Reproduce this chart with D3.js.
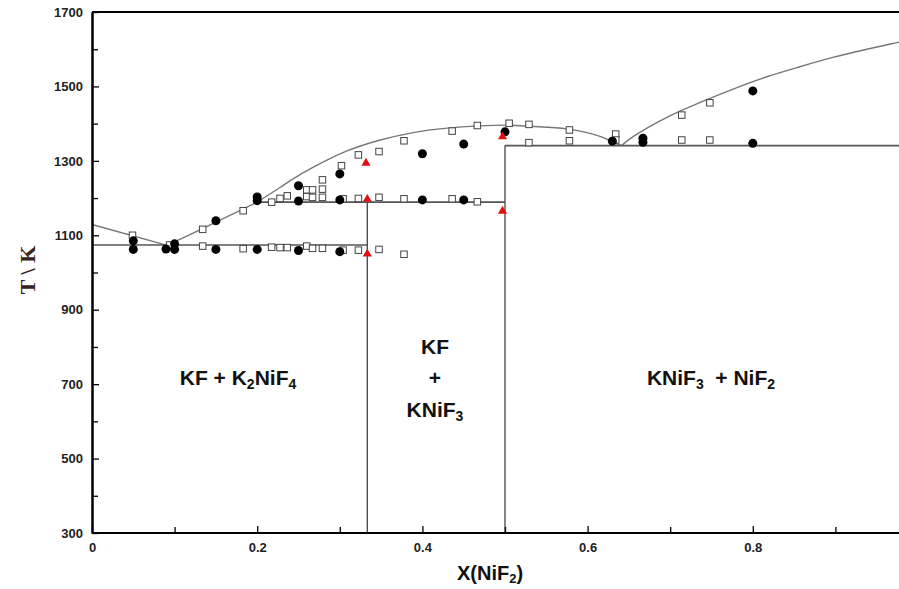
<!DOCTYPE html>
<html>
<head>
<meta charset="utf-8">
<script src="https://cdn.jsdelivr.net/npm/d3@7"></script>
<style>
  html, body { margin: 0; padding: 0; background: #fff; }
  svg { display: block; }
  text { white-space: pre; }
</style>
</head>
<body>
<svg id="chart" width="899" height="589"></svg>
<script>
// KF–NiF2 phase diagram: liquidus curves, invariant lines and experimental points

// Liquidus of KF (KF-rich side, down to the eutectic)
const liquidusKF = [[0, 1129], [0.091, 1073]];
// Liquidus of K2NiF4 (eutectic up to the peritectic point)
const liquidusK2NiF4 = [[0.091, 1073], [0.13, 1114], [0.2, 1189]];
// Liquidus of KNiF3 (peritectic, through congruent maximum, down to second eutectic)
const liquidusKNiF3 = [
  [0.2, 1189], [0.228, 1229], [0.24, 1247], [0.268, 1283], [0.308, 1326],
  [0.349, 1356], [0.389, 1376], [0.43, 1388], [0.47, 1394], [0.5, 1396],
  [0.53, 1393], [0.575, 1386], [0.615, 1366], [0.631, 1350], [0.641, 1341]
];
// Liquidus of NiF2
const liquidusNiF2 = [
  [0.641, 1341], [0.655, 1365], [0.696, 1417], [0.7385, 1459], [0.7785, 1495],
  [0.817, 1526], [0.857, 1553], [0.897, 1578], [0.938, 1600], [0.977, 1619], [1.0, 1630]
];

// Invariant horizontals [x0, x1, T] and compound verticals [x, Ttop]
const horizontals = [[0, 0.3333, 1074], [0.2, 0.5, 1189], [0.5, 1.0, 1341]];
const verticals = [[0.3333, 1189], [0.5, 1341]];

// Experimental points (open squares, filled circles, red triangles)
const squares = [
  [0.049, 1100], [0.094, 1074], [0.134, 1116], [0.134, 1071],
  [0.183, 1166], [0.183, 1064], [0.2175, 1189], [0.2175, 1068],
  [0.2276, 1199], [0.2276, 1067], [0.2364, 1206], [0.2364, 1067],
  [0.26, 1222], [0.26, 1204], [0.26, 1071], [0.267, 1222], [0.267, 1202], [0.267, 1065],
  [0.279, 1249], [0.279, 1224], [0.279, 1202], [0.279, 1065],
  [0.302, 1287], [0.304, 1198], [0.304, 1060],
  [0.3225, 1316], [0.3225, 1199], [0.3225, 1060],
  [0.3475, 1325], [0.3475, 1202], [0.3475, 1062],
  [0.3777, 1354], [0.3777, 1198], [0.3777, 1049],
  [0.436, 1380], [0.436, 1198], [0.4665, 1395], [0.4665, 1190],
  [0.505, 1401], [0.529, 1398], [0.529, 1349], [0.578, 1383], [0.578, 1354],
  [0.634, 1372], [0.634, 1356], [0.714, 1423], [0.714, 1356], [0.748, 1456], [0.748, 1356]
];
const circles = [
  [0.05, 1085], [0.05, 1062], [0.0896, 1063], [0.1, 1077], [0.1, 1062],
  [0.15, 1139], [0.15, 1062], [0.2, 1203], [0.2, 1193], [0.2, 1062],
  [0.25, 1233], [0.25, 1192], [0.25, 1059], [0.3, 1265], [0.3, 1195], [0.3, 1056],
  [0.4, 1319], [0.4, 1195], [0.45, 1345], [0.45, 1195], [0.5, 1378],
  [0.63, 1353], [0.667, 1361], [0.667, 1350], [0.8, 1488], [0.8, 1347]
];
const triangles = [[0.3317, 1294], [0.3333, 1197], [0.3333, 1050], [0.497, 1365], [0.497, 1165]];

// Axis ticks
const yMajorTicks = [300, 500, 700, 900, 1100, 1300, 1500, 1700];
const yMinorTicks = [400, 600, 800, 1000, 1200, 1400, 1600];
const xMajorTicks = [0, 0.2, 0.4, 0.6, 0.8];
const xMinorTicks = [0.1, 0.3, 0.5, 0.7, 0.9];
const xTickLabels = ["0", "0.2", "0.4", "0.6", "0.8"];

const svg = d3.select("#chart");
const W = 899;
const padLeft = 92, padTop = 12, axisBottomY = 533;

const x = d3.scaleLinear().domain([0, 1]).range([padLeft, 918]);
const y = d3.scaleLinear().domain([300, 1700]).range([axisBottomY, padTop]);

const font = "Arial, 'Liberation Sans', Helvetica, sans-serif";

const plot = svg.append("g");

// Liquidus curves
const line = d3.line().x(d => x(d[0])).y(d => y(d[1]));
const smooth = d3.line().x(d => x(d[0])).y(d => y(d[1])).curve(d3.curveCatmullRom.alpha(0.5));
[liquidusKF, liquidusK2NiF4].forEach(c =>
  plot.append("path").datum(c).attr("d", line)
    .attr("fill", "none").attr("stroke", "#777").attr("stroke-width", 1.4));
[liquidusKNiF3, liquidusNiF2].forEach(c =>
  plot.append("path").datum(c).attr("d", smooth)
    .attr("fill", "none").attr("stroke", "#777").attr("stroke-width", 1.4));

// Invariant lines
plot.selectAll("line.h").data(horizontals).join("line").attr("class", "h")
  .attr("x1", d => x(d[0])).attr("x2", d => x(d[1]))
  .attr("y1", d => y(d[2])).attr("y2", d => y(d[2]))
  .attr("stroke", "#555").attr("stroke-width", 1.6);
plot.selectAll("line.v").data(verticals).join("line").attr("class", "v")
  .attr("x1", d => x(d[0])).attr("x2", d => x(d[0]))
  .attr("y1", y(300)).attr("y2", d => y(d[1]))
  .attr("stroke", "#444").attr("stroke-width", 1.3);

// Experimental points
const sq = 6.5;
plot.selectAll("rect.sq").data(squares).join("rect").attr("class", "sq")
  .attr("x", d => x(d[0]) - sq / 2).attr("y", d => y(d[1]) - sq / 2)
  .attr("width", sq).attr("height", sq)
  .attr("fill", "#fff").attr("stroke", "#444").attr("stroke-width", 1);
plot.selectAll("circle.pt").data(circles).join("circle").attr("class", "pt")
  .attr("cx", d => x(d[0])).attr("cy", d => y(d[1])).attr("r", 4.5)
  .attr("fill", "#000");
const tri = d3.symbol().type(d3.symbolTriangle).size(36);
plot.selectAll("path.tri").data(triangles).join("path").attr("class", "tri")
  .attr("transform", d => `translate(${x(d[0])},${y(d[1])})`)
  .attr("d", tri).attr("fill", "#e01010");

// Frame: top border and axes with inward ticks
svg.append("line").attr("x1", padLeft).attr("x2", W).attr("y1", padTop).attr("y2", padTop)
  .attr("stroke", "#000").attr("stroke-width", 2);

const yAxis = svg.append("g").attr("transform", `translate(${padLeft},0)`)
  .call(d3.axisLeft(y).tickValues(yMajorTicks).tickSize(-7).tickPadding(9).tickSizeOuter(0).tickFormat(d3.format("d")));
const yMinor = svg.append("g").attr("transform", `translate(${padLeft},0)`)
  .call(d3.axisLeft(y).tickValues(yMinorTicks).tickSize(-6).tickSizeOuter(0).tickFormat(""));
const xAxis = svg.append("g").attr("transform", `translate(0,${axisBottomY})`)
  .call(d3.axisBottom(x).tickValues(xMajorTicks).tickSize(-7).tickPadding(10).tickSizeOuter(0)
    .tickFormat((d, i) => xTickLabels[i]));
const xMinor = svg.append("g").attr("transform", `translate(0,${axisBottomY})`)
  .call(d3.axisBottom(x).tickValues(xMinorTicks).tickSize(-6).tickSizeOuter(0).tickFormat(""));

[yAxis, yMinor, xAxis, xMinor].forEach(g => {
  g.select(".domain").attr("stroke", "#000").attr("stroke-width", 2);
  g.selectAll(".tick line").attr("stroke", "#000").attr("stroke-width", 1.3);
  g.selectAll("text").attr("font-family", font).attr("font-weight", "bold")
    .attr("font-size", 13).attr("fill", "#222");
});
xMinor.select(".domain").attr("d", `M${padLeft},0H${W}`);
xAxis.select(".domain").attr("d", `M${padLeft},0H${W}`);

// Axis titles
const xt = svg.append("text").attr("x", 490).attr("y", 580).attr("text-anchor", "middle")
  .attr("font-family", font).attr("font-weight", "bold").attr("font-size", 20).attr("fill", "#111");
xt.append("tspan").text("X(NiF");
xt.append("tspan").text("2").attr("font-size", 13).attr("dy", 3);
xt.append("tspan").text(")").attr("dy", -3);

svg.append("text").attr("transform", "translate(35,270) rotate(-90)")
  .attr("text-anchor", "middle")
  .attr("font-family", "'Liberation Serif', 'Times New Roman', serif")
  .attr("font-weight", "bold").attr("font-size", 22).attr("fill", "#3a2222")
  .text("T \\ K");

// Phase-field labels
function label(parts, cx, cy) {
  const t = svg.append("text").attr("x", cx).attr("y", cy).attr("text-anchor", "middle")
    .attr("font-family", font).attr("font-weight", "bold").attr("font-size", 21).attr("fill", "#111");
  let shifted = false;
  parts.forEach(p => {
    if (p.sub) {
      t.append("tspan").text(p.sub).attr("font-size", 14).attr("dy", 4);
      shifted = true;
    } else {
      t.append("tspan").text(p.t).attr("dy", shifted ? -4 : 0);
      shifted = false;
    }
  });
}
label([{ t: "KF + K" }, { sub: "2" }, { t: "NiF" }, { sub: "4" }], 238, 385);
label([{ t: "KF" }], 435, 354);
label([{ t: "+" }], 435, 385);
label([{ t: "KNiF" }, { sub: "3" }], 435, 417);
label([{ t: "KNiF" }, { sub: "3" }, { t: "  + NiF" }, { sub: "2" }], 711, 385);
</script>
</body>
</html>
